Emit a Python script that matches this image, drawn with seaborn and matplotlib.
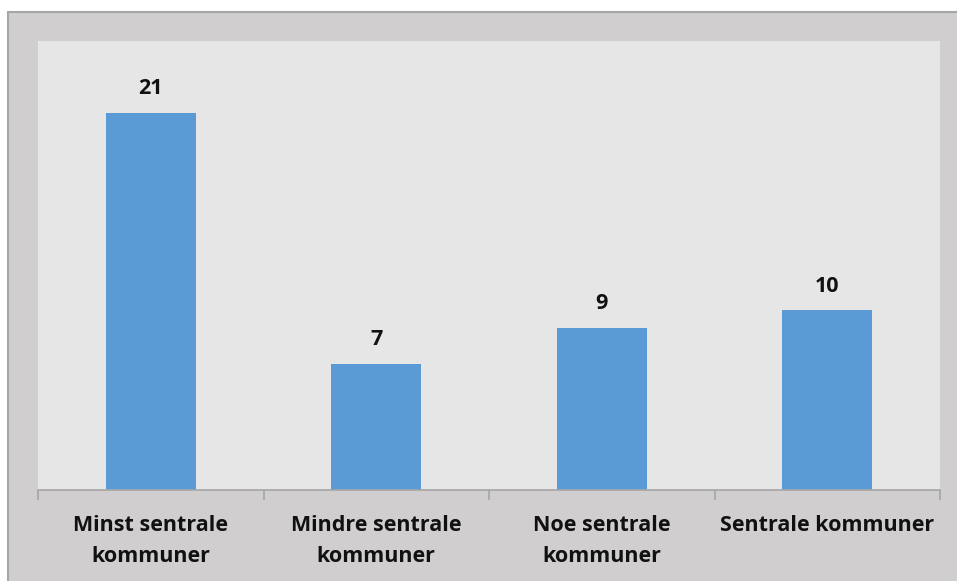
import matplotlib
matplotlib.use("Agg")
import matplotlib.pyplot as plt
from matplotlib.patches import Rectangle
import seaborn as sns
import pandas as pd

categories = ["Minst sentrale\nkommuner", "Mindre sentrale\nkommuner",
              "Noe sentrale\nkommuner", "Sentrale kommuner"]
values = [21, 7, 9, 10]

df = pd.DataFrame({"kategori": categories, "antall": values})

sns.set_style("white")
plt.rcParams["font.family"] = ["Open Sans", "DejaVu Sans"]

W, H = 957, 581
fig = plt.figure(figsize=(W / 100, H / 100), dpi=100, facecolor="white")

# outer chart area with border (bottom and right run off the image)
fig.patches.append(Rectangle((8 / W, -0.1), 1, 1.1 - 12 / H, transform=fig.transFigure,
                             facecolor="#d0cece", edgecolor="#a6a6a6", linewidth=1.5,
                             zorder=-10))

ax = fig.add_axes([38 / W, 1 - 490 / H, (940 - 38) / W, (490 - 41) / H])
ax.set_facecolor("#e6e6e6")

sns.barplot(data=df, x="kategori", y="antall", color="#5b9bd5", width=0.4,
            saturation=1, linewidth=0, edgecolor="none", ax=ax)

ax.set_ylim(0, 25)
ax.set_xlim(-0.5, 3.5)
ax.set_yticks([])
ax.set_xlabel("")
ax.set_ylabel("")
for s in ["top", "left", "right"]:
    ax.spines[s].set_visible(False)
ax.spines["bottom"].set_color("#a6a6a6")
ax.spines["bottom"].set_linewidth(1.2)

ax.set_xticks([0, 1, 2, 3])
ax.set_xticklabels(categories, fontsize=15.5, fontweight="bold", color="#111111",
                   linespacing=1.65)
ax.tick_params(axis="x", which="major", bottom=True, length=0, pad=18)

# boundary tick marks
ax.set_xticks([-0.5, 0.5, 1.5, 2.5, 3.5], minor=True)
ax.tick_params(axis="x", which="minor", bottom=True, length=7, color="#a6a6a6", width=1.2)

for c in ax.containers:
    ax.bar_label(c, padding=10, fontsize=15.5, fontweight="bold", color="#111111")

fig.savefig("out.png", dpi=100)
